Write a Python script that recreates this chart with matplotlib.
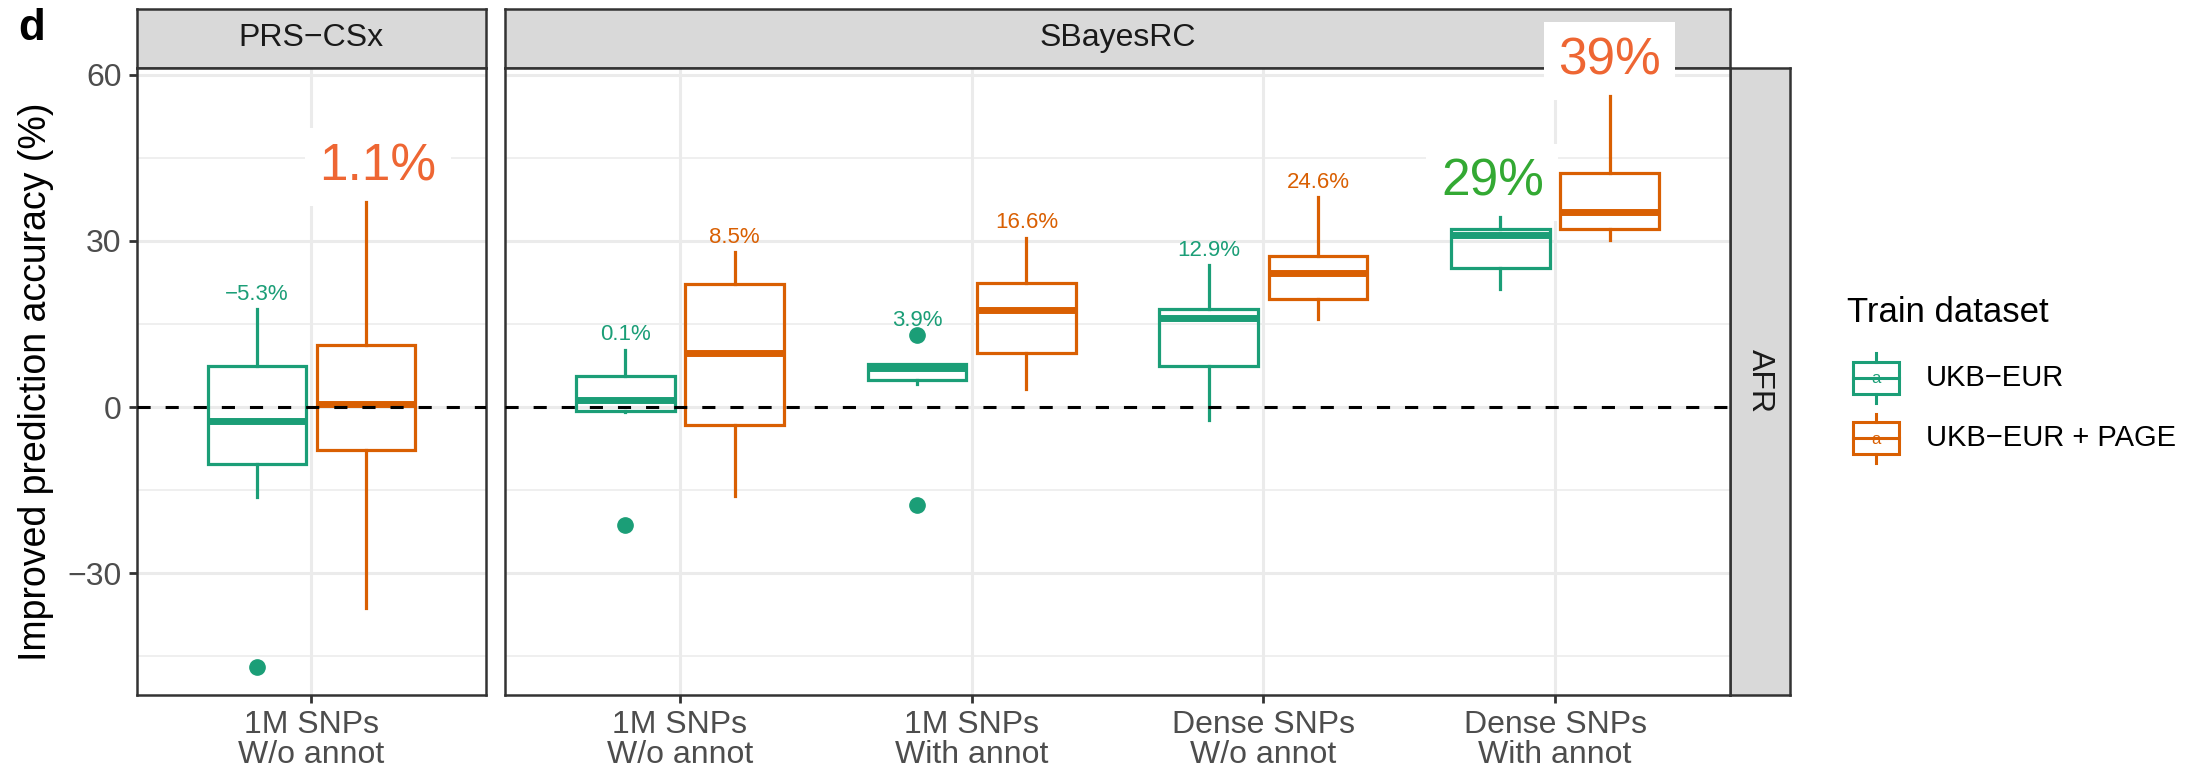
import matplotlib
matplotlib.use('Agg')
import matplotlib.pyplot as plt
from matplotlib.patches import Rectangle

plt.rcParams['font.family'] = ['Liberation Sans', 'DejaVu Sans']

# Data (improved prediction accuracy, %)
panels = ['PRS−CSx', 'SBayesRC']
categories = ['1M SNPs\nW/o annot', '1M SNPs\nW/o annot', '1M SNPs\nWith annot',
              'Dense SNPs\nW/o annot', 'Dense SNPs\nWith annot']
cat_panel = [0, 1, 1, 1, 1]
cat_pos = [1, 1, 2, 3, 4]
groups = ['UKB−EUR', 'UKB−EUR + PAGE']

eur_whislo = [-16.3, -0.9, 4.2, -2.3, 21.3]
eur_q1 = [-10.3, -0.7, 4.9, 7.5, 25.2]
eur_med = [-2.6, 1.2, 7.1, 16.1, 31.0]
eur_q3 = [7.5, 5.7, 7.7, 17.7, 32.2]
eur_whishi = [17.7, 10.4, 7.7, 25.6, 34.3]
eur_fliers = [[-46.9], [-21.3], [13.0, -17.7], [], []]
eur_labels = ['−5.3%', '0.1%', '3.9%', '12.9%', '29%']
eur_big = [False, False, False, False, True]

page_whislo = [-36.2, -16.1, 3.3, 15.9, 30.2]
page_q1 = [-7.8, -3.2, 9.8, 19.6, 32.2]
page_med = [0.6, 9.8, 17.6, 24.3, 35.2]
page_q3 = [11.3, 22.2, 22.5, 27.3, 42.3]
page_whishi = [37.1, 28.0, 30.6, 37.9, 56.2]
page_fliers = [[], [], [], [], []]
page_labels = ['1.1%', '8.5%', '16.6%', '24.6%', '39%']
page_big = [True, False, False, False, True]

colors = ['#1B9E77', '#D95F02']
big_colors = ['#33A933', '#EE6633']
# small horizontal shift of the big labels (in pixels), as in the original
eur_nudge = [0, 0, 0, 0, -8]
page_nudge = [12, 0, 0, 0, 0]

W, H = 2203, 772
def px_box(l, t, r, b):
    return [l / W, 1 - b / H, (r - l) / W, (b - t) / H]

fig = plt.figure(figsize=(W / 100, H / 100), dpi=100)

border = '#333333'

# strips
for (l, r), name in zip([(136.7, 486), (505, 1730)], panels):
    sax = fig.add_axes(px_box(l, 9, r, 67.7))
    sax.set_facecolor('#D9D9D9')
    sax.set_xticks([]); sax.set_yticks([])
    for s in sax.spines.values():
        s.set_color(border); s.set_linewidth(1.8)
    sax.text(0.5, 0.5, name, ha='center', va='center', fontsize=23, color='#1A1A1A',
             transform=sax.transAxes)

afr = fig.add_axes(px_box(1730, 67.7, 1790, 695))
afr.set_facecolor('#D9D9D9')
afr.set_xticks([]); afr.set_yticks([])
for s in afr.spines.values():
    s.set_color(border); s.set_linewidth(1.8)
afr.text(0.5, 0.5, 'AFR', rotation=-90, ha='center', va='center', fontsize=23,
         color='#1A1A1A', transform=afr.transAxes)

ax1 = fig.add_axes(px_box(136.7, 67.7, 486, 695))
ax2 = fig.add_axes(px_box(505, 67.7, 1730, 695))
axes = [ax1, ax2]
ncat = [1, 4]

width = 0.3375
offset = 0.1875

for p, ax in enumerate(axes):
    ax.set_zorder(3)
    ax.set_xlim(0.4, ncat[p] + 0.6)
    ax.set_ylim(-52.0, 61.3)
    ax.set_yticks([-30, 0, 30, 60])
    ax.set_yticks([-45, -15, 15, 45], minor=True)
    ax.set_xticks(range(1, ncat[p] + 1))
    ax.set_xticklabels([c for c, cp in zip(categories, cat_panel) if cp == p])
    for t in ax.get_xticklabels():
        t.set_linespacing(1.0)
    ax.grid(which='major', color='#EBEBEB', lw=2.2, zorder=0)
    ax.grid(which='minor', axis='y', color='#EBEBEB', lw=1.1, zorder=0)
    ax.set_axisbelow(True)
    ax.tick_params(which='major', direction='out', length=6, width=2, color=border,
                   labelsize=23, labelcolor='#4D4D4D', pad=5)
    ax.tick_params(which='minor', length=0)
    for s in ax.spines.values():
        s.set_color(border); s.set_linewidth(1.8); s.set_zorder(1.4)
    ax.axhline(0, color='black', lw=2.2, ls=(0, (4.3, 4.9)), zorder=4)

ax2.tick_params(axis='y', which='both', left=False, labelleft=False)

series = [
    (eur_whislo, eur_q1, eur_med, eur_q3, eur_whishi, eur_fliers, eur_labels, eur_big, eur_nudge),
    (page_whislo, page_q1, page_med, page_q3, page_whishi, page_fliers, page_labels, page_big, page_nudge),
]

big_size = 37
big_pad = 0.28

for g, (wlo, q1, med, q3, whi, fl, labs, big, nudge) in enumerate(series):
    c = colors[g]
    dx = -offset if g == 0 else offset
    for i in range(len(categories)):
        ax = axes[cat_panel[i]]
        x = cat_pos[i] + dx
        stats = [dict(whislo=wlo[i], q1=q1[i], med=med[i], q3=q3[i], whishi=whi[i],
                      fliers=fl[i])]
        ax.bxp(stats, positions=[x], widths=width, showcaps=False, patch_artist=True,
               manage_ticks=False,
               boxprops=dict(facecolor='none', edgecolor=c, linewidth=2.3),
               whiskerprops=dict(color=c, linewidth=2.3),
               medianprops=dict(color=c, linewidth=5, solid_capstyle='butt'),
               flierprops=dict(marker='o', markerfacecolor=c, markeredgecolor=c,
                               markersize=11))
        top = max([whi[i]] + fl[i])
        if big[i]:
            # white label box sits under the boxplot lines, above grid and frame
            ax.annotate(labs[i], xy=(x, top),
                        xytext=(nudge[i] * 0.72, big_pad * big_size - 3),
                        textcoords='offset points', ha='center', va='bottom',
                        fontsize=big_size, color=big_colors[g], annotation_clip=False,
                        zorder=1.5,
                        bbox=dict(boxstyle='square,pad=%g' % big_pad, fc='white', ec='none'))
        else:
            ax.text(x, top + 2.7, labs[i], ha='center', va='center', fontsize=16,
                    color=c, zorder=6)

fig.text(36 / W, 1 - 382 / H, 'Improved prediction accuracy (%)', rotation=90,
         ha='center', va='center', fontsize=27, color='black')
fig.text(18 / W, 1 - 8 / H, 'd', ha='left', va='top', fontsize=31.5,
         fontweight='bold', color='black')

# legend
lax = fig.add_axes(px_box(1840, 280, 2203, 480))
lax.set_xlim(1840, 2203)
lax.set_ylim(480, 280)
lax.axis('off')
lax.text(1846.7, 313, 'Train dataset', ha='left', va='center', fontsize=25, color='black')
for g, yc in enumerate([378, 438]):
    c = colors[g]
    lax.add_patch(Rectangle((1852.7, yc - 16), 46.3, 32, fc='none', ec=c, lw=2.2))
    lax.plot([1852.7, 1899], [yc, yc], color=c, lw=2.2)
    lax.plot([1876, 1876], [yc - 24.5, yc - 16], color=c, lw=2.2)
    lax.plot([1876, 1876], [yc + 16, yc + 24.5], color=c, lw=2.2)
    lax.text(1876, yc + 1, 'a', ha='center', va='center', fontsize=12, color=c)
    lax.text(1925.7, yc, groups[g], ha='left', va='center', fontsize=21, color='black')

fig.savefig('out.png', dpi=100, facecolor='white')
